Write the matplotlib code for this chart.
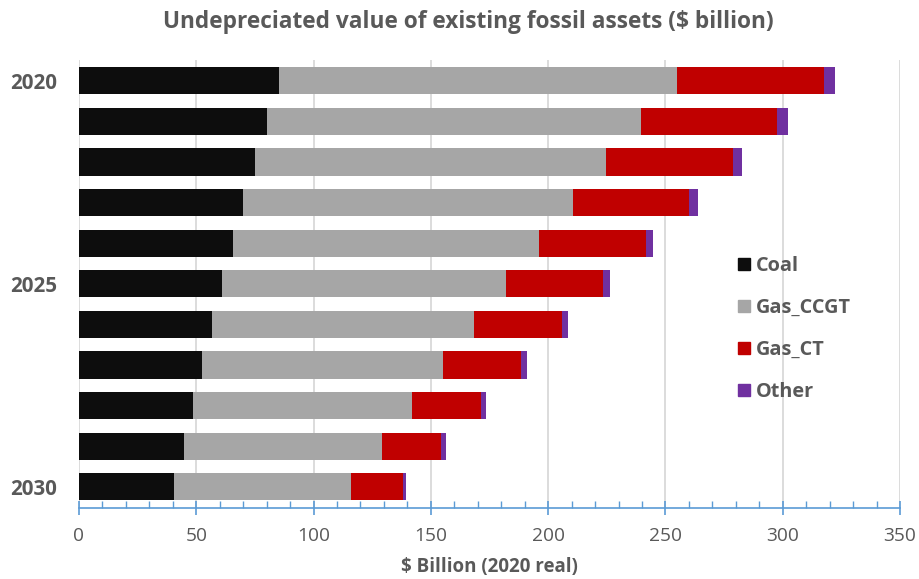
import numpy as np
import matplotlib
matplotlib.use("Agg")
import matplotlib.pyplot as plt
from matplotlib.lines import Line2D
from matplotlib.ticker import MultipleLocator

plt.rcParams['font.family'] = ['Open Sans', 'DejaVu Sans']

anios = [2020, 2021, 2022, 2023, 2024, 2025, 2026, 2027, 2028, 2029, 2030]
etiquetas_anios = ['2020', '', '', '', '', '2025', '', '', '', '', '2030']

coal = [85.3, 80.1, 75.2, 70.0, 65.5, 60.8, 56.5, 52.4, 48.5, 44.6, 40.6]
gas_ccgt = [169.6, 159.4, 149.4, 140.4, 130.7, 121.2, 111.9, 102.8, 93.5, 84.5, 75.2]
gas_ct = [62.6, 58.2, 54.1, 49.6, 45.5, 41.5, 37.4, 33.4, 29.4, 25.4, 22.3]
other = [4.6, 4.4, 3.9, 3.7, 3.1, 2.8, 2.7, 2.5, 2.3, 1.9, 1.5]

series = ['Coal', 'Gas_CCGT', 'Gas_CT', 'Other']
colores = ['#0d0d0d', '#a6a6a6', '#c00000', '#7030a0']
gris_texto = '#595959'

fig = plt.figure(figsize=(9.2, 5.79), dpi=100)
ax = fig.add_axes([79/920, 1-508/579, 821/920, 448/579])

y = np.arange(len(anios))
izq = np.zeros(len(anios))
for valores, nombre, color in zip([coal, gas_ccgt, gas_ct, other], series, colores):
    ax.barh(y, valores, left=izq, height=0.67, color=color, label=nombre, zorder=3)
    izq += np.array(valores)

ax.set_xlim(0, 350)
ax.set_ylim(10.52, -0.51)
ax.xaxis.set_major_locator(MultipleLocator(50))
ax.xaxis.set_minor_locator(MultipleLocator(10))
ax.grid(axis='x', which='major', color='#d9d9d9', linewidth=1.3, zorder=0)
ax.set_axisbelow(True)

for lado in ['top', 'right', 'left']:
    ax.spines[lado].set_visible(False)
ax.spines['bottom'].set_color('#5b9bd5')
ax.spines['bottom'].set_linewidth(1.2)
ax.tick_params(axis='x', which='major', direction='inout', length=10, width=1.2,
               color='#5b9bd5', labelsize=13.8, labelcolor=gris_texto, pad=9)
ax.tick_params(axis='x', which='minor', direction='in', length=4.7, width=1.0,
               color='#5b9bd5')

ax.set_yticks(y)
ax.set_yticklabels(etiquetas_anios, fontsize=14.8, fontweight='bold', color=gris_texto)
ax.tick_params(axis='y', length=0, pad=15.5)

ax.set_xlabel('$ Billion (2020 real)', fontsize=13.5, fontweight='bold',
              color=gris_texto, labelpad=8)
fig.text(468/920, 1-22/579, 'Undepreciated value of existing fossil assets ($ billion)',
         ha='center', va='center', fontsize=16.3, fontweight='bold', color=gris_texto)

manijas = [Line2D([], [], marker='s', linestyle='none', markersize=9,
                  markerfacecolor=c, markeredgecolor=c) for c in colores]
leg = fig.legend(manijas, series, loc='center left', frameon=False,
                 bbox_to_anchor=(716/920, 1-329/579), fontsize=14.3,
                 labelspacing=1.12, handletextpad=0.1, handlelength=1.0)
for t in leg.get_texts():
    t.set_color(gris_texto)
    t.set_fontweight('bold')

fig.savefig('out.png', dpi=100)
